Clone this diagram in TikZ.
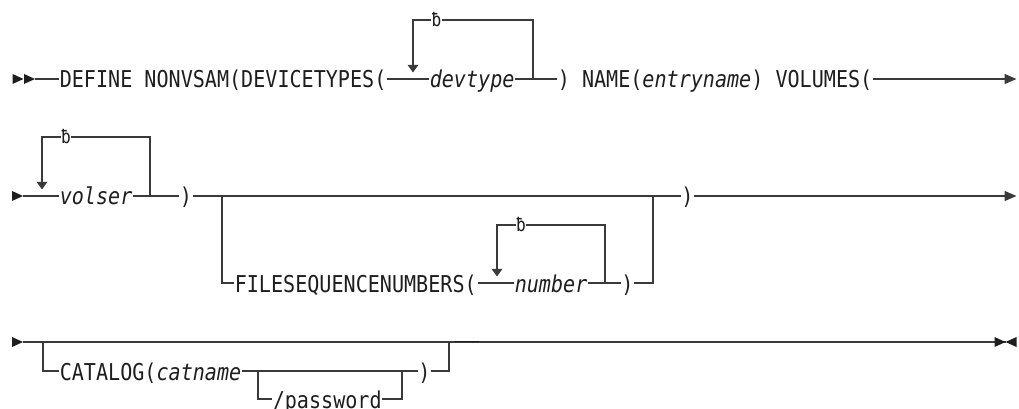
\documentclass[tikz,border=0pt]{standalone}
\usepackage{fontspec}
\setmonofont{DejaVu Sans Mono}[FakeStretch=0.866]
\usetikzlibrary{arrows.meta}
\definecolor{ink}{HTML}{1E1E1E}
\definecolor{wire}{HTML}{3A3A3A}
\begin{document}
\begin{tikzpicture}[x=0.75pt,y=-0.75pt,
  rail/.style={draw=wire,line width=1pt},
  word/.style={font=\ttfamily\fontsize{17.4pt}{20pt}\selectfont,text=ink,inner xsep=0.4pt,inner ysep=0pt,anchor=base west},
  blank/.style={font=\ttfamily\fontsize{14pt}{16pt}\selectfont,text=ink,fill=white,inner sep=0.2pt,anchor=base},
  loopdown/.style={rail,-{Triangle[length=5.8pt,width=8pt]}},
  loopout/.style={rail,-{Triangle[length=9pt,width=7.5pt]}},
  pics/go/.style={code={\fill[ink] (-11,-5) -- (0,0) -- (-11,5) -- cycle;}},
  pics/halt/.style={code={\fill[ink] (11,-5) -- (0,0) -- (11,5) -- cycle;}},
]
\useasboundingbox (0,0) rectangle (1019,409);

% ---- first line: DEFINE NONVSAM ... VOLUMES(
\coordinate (r1) at (35,79);
\coordinate (r1end) at (1016.5,79);
\node[word] (define) at (59,88) {DEFINE NONVSAM(DEVICETYPES(};
\node[word] (devtype) at (429,88) {\textit{devtype}};
\node[word] (name) at (557,88) {) NAME(\textit{entryname}) VOLUMES(};
\coordinate (dvL) at (413,20);
\coordinate (dvR) at (533,20);
\coordinate (dvTip) at (413,72.5);
\pic at (23.5,79) {go};
\pic at (r1) {go};
\draw[rail] (r1) -- (define.west |- r1);
\draw[rail] (define.east |- r1) -- (devtype.west |- r1);
\draw[rail] (devtype.east |- r1) -- (name.west |- r1);
\draw[loopout] (name.east |- r1) -- (r1end);
\draw[loopdown] (dvR |- r1) -- (dvR) -- (dvL) -- (dvTip);
\node[blank] (dvBlank) at (436.5,27) {ƀ};

% ---- second line: volser ) [FILESEQUENCENUMBERS(...)] )
\coordinate (r2) at (23,196);
\coordinate (r2end) at (1016.5,196);
\coordinate (fsOut) at (222,196);
\coordinate (fsIn) at (653,196);
\node[word] (volser) at (59,205) {\textit{volser}};
\node[word] (close1) at (179,205) {)};
\node[word] (close2) at (680.5,205) {)};
\coordinate (vsL) at (42,137);
\coordinate (vsR) at (150,137);
\coordinate (vsTip) at (42,189.5);
\pic at (r2) {go};
\draw[rail] (r2) -- (volser.west |- r2);
\draw[rail] (volser.east |- r2) -- (close1.west |- r2);
\draw[rail] (close1.east |- r2) -- (close2.west |- r2);
\draw[loopout] (close2.east |- r2) -- (r2end);
\draw[loopdown] (vsR |- r2) -- (vsR) -- (vsL) -- (vsTip);
\node[blank] (vsBlank) at (66,144) {ƀ};

% optional branch
\coordinate (r2b) at (222,283);
\node[word] (fsn) at (234,292) {FILESEQUENCENUMBERS(};
\node[word] (number) at (514,292) {\textit{number}};
\node[word] (close3) at (620.5,292) {)};
\coordinate (nbL) at (497,225);
\coordinate (nbR) at (605,225);
\coordinate (nbTip) at (497,276.5);
\draw[rail] (fsOut) -- (r2b) -- (fsn.west |- r2b);
\draw[rail] (fsn.east |- r2b) -- (number.west |- r2b);
\draw[rail] (number.east |- r2b) -- (close3.west |- r2b);
\draw[rail] (close3.east |- r2b) -- (fsIn |- r2b) -- (fsIn);
\draw[loopdown] (nbR |- r2b) -- (nbR) -- (nbL) -- (nbTip);
\node[blank] (nbBlank) at (521,232) {ƀ};

% ---- third line: [CATALOG(catname[/password])]
\coordinate (r3) at (23,342);
\coordinate (r3end) at (1005.5,342);
\coordinate (catOut) at (43,342);
\coordinate (catIn) at (449,342);
\pic at (r3) {go};
\draw[rail] (r3) -- (r3end);
\draw[ink,line width=1.4pt] (455,341.5) -- (479,341.5);
\pic at (r3end) {go};
\pic at (r3end) {halt};

\coordinate (r3b) at (43,371);
\coordinate (pwOut) at (258,371);
\coordinate (pwIn) at (402,371);
\node[word] (catalog) at (59,380) {CATALOG(\textit{catname}};
\node[word] (close4) at (417.5,380) {)};
\draw[rail] (catOut) -- (r3b) -- (catalog.west |- r3b);
\draw[rail] (catalog.east |- r3b) -- (close4.west |- r3b);
\draw[rail] (close4.east |- r3b) -- (catIn |- r3b) -- (catIn);

\coordinate (r3c) at (258,399);
\node[word] (password) at (272,408) {/password};
\draw[rail] (pwOut) -- (r3c) -- (password.west |- r3c);
\draw[rail] (password.east |- r3c) -- (pwIn |- r3c) -- (pwIn);
\end{tikzpicture}
\end{document}
